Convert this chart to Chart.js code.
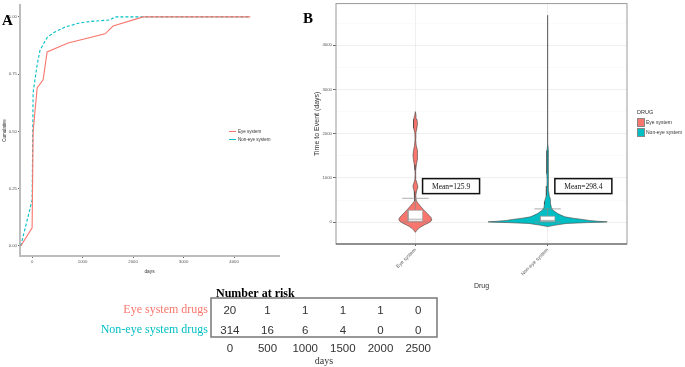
<!DOCTYPE html>
<html><head><meta charset="utf-8">
<script src="https://cdn.jsdelivr.net/npm/chart.js@4.4.1/dist/chart.umd.min.js"></script>
<style>
html,body{margin:0;padding:0;background:#fff;width:685px;height:367px;overflow:hidden;position:relative;}
canvas{position:absolute;}
.t{position:absolute;white-space:nowrap;font-family:'Liberation Sans',Arial,sans-serif;color:#333;}
.panel{position:absolute;font-family:'Liberation Serif','Times New Roman',serif;font-weight:bold;font-size:15px;line-height:15px;color:#000;}
</style></head><body>
<canvas id="cA" width="290" height="275" style="left:0;top:0;"></canvas>
<canvas id="cB" width="395" height="290" style="left:290px;top:0;"></canvas>
<canvas id="cC" width="480" height="87" style="left:0;top:280px;"></canvas>

<div class="panel" style="left:2px;top:13px;">A</div>
<div class="panel" style="left:303px;top:11px;">B</div>

<!-- legend A -->
<div style="position:absolute;left:229px;top:131px;width:7px;height:1px;background:#F8766D"></div>
<div class="t" style="left:238px;top:128.5px;font-size:4.5px;line-height:6px;">Eye system</div>
<div style="position:absolute;left:229px;top:139px;width:7px;height:1px;background:#00BFC4"></div>
<div class="t" style="left:238px;top:136.5px;font-size:4.5px;line-height:6px;">Non-eye system</div>

<!-- legend B -->
<div class="t" style="left:637px;top:109px;font-size:5.5px;line-height:7px;">DRUG</div>
<div style="position:absolute;left:637px;top:118px;width:6px;height:7px;background:#F8766D;border:0.5px solid #888"></div>
<div class="t" style="left:646px;top:119px;font-size:5px;line-height:6px;">Eye system</div>
<div style="position:absolute;left:637px;top:128px;width:6px;height:7px;background:#00BFC4;border:0.5px solid #888"></div>
<div class="t" style="left:646px;top:129px;font-size:5px;line-height:6px;">Non-eye system</div>

<script>
// ---------- Panel A data ----------
const seriesNames = ['Eye system', 'Non-eye system'];
const eyeDays   = [-225, 0, 20, 100, 218, 297, 713, 1446, 1604, 2198, 4320];
const eyeCum    = [0, 0.079, 0.50, 0.69, 0.725, 0.847, 0.886, 0.926, 0.96, 1.0, 1.0];
const nonEyeDays = [-225, 0, 20, 99, 158, 297, 416, 653, 950, 1149, 1545, 1644, 4320];
const nonEyeCum  = [0, 0.20, 0.67, 0.79, 0.856, 0.91, 0.93, 0.956, 0.974, 0.98, 0.987, 1.0, 1.0];
const cumTicks = [0, 0.25, 0.5, 0.75, 1];
const dayTicks = [0, 1000, 2000, 3000, 4000];

// ---------- Panel B data ----------
const drugCategories = ['Eye system', 'Non-eye system'];
const eyeViolinDays    = [-230, -190, -150, -105, -60, -20, 20, 60, 100, 150, 210, 280, 350, 420, 480, 540, 620, 700, 770, 820, 880, 960, 1060, 1180, 1300, 1420, 1520, 1620, 1740, 1880, 2020, 2130, 2230, 2330, 2420, 2500];
const eyeViolinDensity = [0, 0.01, 0.022, 0.042, 0.07, 0.098, 0.118, 0.125, 0.12, 0.105, 0.085, 0.062, 0.042, 0.022, 0.008, 0.004, 0.004, 0.009, 0.016, 0.018, 0.012, 0.004, 0.002, 0.003, 0.008, 0.015, 0.018, 0.014, 0.006, 0.002, 0.004, 0.012, 0.016, 0.012, 0.005, 0];
const nonEyeViolinDays    = [-100, -67, -30, -10, 0, 7, 20, 40, 60, 90, 120, 160, 195, 270, 330, 400, 460, 520, 600, 700, 820, 950, 1100, 1250, 1380, 1500, 1620, 1750, 2000, 2500, 3000, 3500, 4000, 4400, 4680];
const nonEyeViolinDensity = [0, 0.06, 0.14, 0.3, 0.42, 0.45, 0.38, 0.31, 0.265, 0.19, 0.13, 0.1, 0.076, 0.04, 0.028, 0.024, 0.024, 0.018, 0.012, 0.008, 0.005, 0.004, 0.006, 0.007, 0.006, 0.007, 0.005, 0.002, 0.0012, 0.001, 0.001, 0.001, 0.001, 0.001, 0];
// [lower whisker, Q1, median, Q3, upper whisker]
const eyeBox    = [5, 22, 67, 270, 540];
const nonEyeBox = [3, 22, 40, 135, 300];
const meanDays = [125.9, 298.4];
const timeTicks = [0, 500, 1000, 1500, 2000, 2500, 3000, 3500, 4000, 4500];

// ---------- Risk table data ----------
const riskDays = ['0', '500', '1000', '1500', '2000', '2500'];
const riskGroups = ['Eye system drugs', 'Non-eye system drugs'];
const eyeAtRisk    = [20, 1, 1, 1, 1, 0];
const nonEyeAtRisk = [314, 16, 6, 4, 0, 0];

const RED = '#F8766D', TEAL = '#00BFC4';
Chart.defaults.font.family = "'Liberation Sans', Arial, sans-serif";
Chart.defaults.color = '#4d4d4d';

// ================= Panel A =================
new Chart(document.getElementById('cA'), {
  type: 'scatter',
  data: { datasets: [
    { label: seriesNames[0], data: eyeDays.map((d, i) => ({x: d, y: eyeCum[i]})),
      showLine: true, borderColor: RED, borderWidth: 1.1, pointRadius: 0, fill: false },
    { label: seriesNames[1], data: nonEyeDays.map((d, i) => ({x: d, y: nonEyeCum[i]})),
      showLine: true, borderColor: TEAL, borderWidth: 1.1, borderDash: [3, 2], pointRadius: 0, fill: false }
  ]},
  options: {
    responsive: false, animation: false, devicePixelRatio: 1,
    layout: { padding: { left: 0, right: 11, top: 5, bottom: 0 } },
    plugins: { legend: { display: false }, tooltip: { enabled: false } },
    scales: {
      x: { type: 'linear', min: -240, max: 4890,
        afterBuildTicks: s => { s.ticks = dayTicks.map(v => ({value: v})); },
        afterFit: s => { s.height = 19; },
        grid: { drawOnChartArea: false, drawTicks: true, tickLength: 2, tickColor: '#666' },
        border: { display: true, color: '#bdbdbd', width: 2 },
        ticks: { font: { size: 4.3 }, color: '#555', padding: 1, autoSkip: false, maxRotation: 0,
          callback: v => String(v) },
        title: { display: true, text: 'days', font: { size: 4.8 }, color: '#333', padding: { top: 4.2, bottom: 0 } } },
      y: { type: 'linear', min: -0.044, max: 1.052,
        afterBuildTicks: s => { s.ticks = cumTicks.map(v => ({value: v})); },
        afterFit: s => { s.width = 20; },
        grid: { drawOnChartArea: false, drawTicks: true, tickLength: 2, tickColor: '#666' },
        border: { display: true, color: '#bdbdbd', width: 2 },
        ticks: { font: { size: 4.3 }, color: '#555', padding: 1, autoSkip: false,
          callback: v => v.toFixed(2) },
        title: { display: true, text: 'Cumulative', font: { size: 4.5 }, color: '#333', padding: { top: 2.3, bottom: 0 } } }
    }
  }
});

// ================= Panel B =================
function violinShape(cat, days, dens) {
  const right = days.map((d, i) => ({x: cat + dens[i], y: d}));
  const left = days.map((d, i) => ({x: cat - dens[i], y: d})).reverse();
  const pts = right.concat(left);
  pts.push({x: pts[0].x, y: pts[0].y});
  return pts;
}
const boxHalf = 0.055, capHalf = 0.1;
function boxSets(cat, b) {
  const [lo, q1, med, q3, hi] = b;
  const line = (pts, color, w) => ({ data: pts, showLine: true, borderColor: color, borderWidth: w, pointRadius: 0, fill: false });
  return [
    line([{x: cat, y: q3}, {x: cat, y: hi}], '#8a8a8a', 0.7),
    line([{x: cat - capHalf, y: hi}, {x: cat + capHalf, y: hi}], '#8a8a8a', 0.7),
    line([{x: cat, y: lo}, {x: cat, y: q1}], '#8a8a8a', 0.7),
    line([{x: cat - capHalf, y: lo}, {x: cat + capHalf, y: lo}], '#8a8a8a', 0.7),
    { data: [{x: cat - boxHalf, y: q1}, {x: cat + boxHalf, y: q1}, {x: cat + boxHalf, y: q3}, {x: cat - boxHalf, y: q3}, {x: cat - boxHalf, y: q1}],
      showLine: true, fill: 'shape', backgroundColor: '#ffffff', borderColor: '#9a9a9a', borderWidth: 0.7, pointRadius: 0 },
    line([{x: cat - boxHalf, y: med}, {x: cat + boxHalf, y: med}], '#9a9a9a', 0.8)
  ];
}
const bSets = [
  { data: violinShape(1, eyeViolinDays, eyeViolinDensity), showLine: true, fill: 'shape',
    backgroundColor: RED, borderColor: '#444', borderWidth: 0.6, pointRadius: 0 },
  { data: violinShape(2, nonEyeViolinDays, nonEyeViolinDensity), showLine: true, fill: 'shape',
    backgroundColor: TEAL, borderColor: '#444', borderWidth: 0.6, pointRadius: 0 },
  ...boxSets(1, eyeBox),
  ...boxSets(2, nonEyeBox)
];
bSets.forEach((d, i) => { d.order = -i; });

const panelFrame = {
  id: 'panelFrame',
  afterDatasetsDraw(chart, args, opts) {
    const {ctx, chartArea: a} = chart;
    ctx.save();
    ctx.strokeStyle = opts.color; ctx.lineWidth = opts.width;
    ctx.strokeRect(a.left, a.top, a.right - a.left, a.bottom - a.top);
    if (opts.bottomColor) {
      ctx.strokeStyle = opts.bottomColor;
      ctx.beginPath(); ctx.moveTo(a.left, a.bottom); ctx.lineTo(a.right, a.bottom); ctx.stroke();
    }
    ctx.restore();
  }
};
const meanLabels = {
  id: 'meanLabels',
  afterDraw(chart, args, opts) {
    const {ctx, scales: {x, y}} = chart;
    meanDays.forEach((m, i) => {
      const cx = x.getPixelForValue(i + 1 + opts.dx), cy = y.getPixelForValue(opts.yAt);
      const w = 57, h = 15;
      ctx.save();
      ctx.fillStyle = '#fff'; ctx.fillRect(cx - w / 2, cy - h / 2, w, h);
      ctx.strokeStyle = '#111'; ctx.lineWidth = 1.5; ctx.strokeRect(cx - w / 2, cy - h / 2, w, h);
      ctx.fillStyle = '#111'; ctx.font = "7.5px 'Liberation Serif', serif";
      ctx.textAlign = 'center'; ctx.textBaseline = 'middle';
      ctx.fillText('Mean=' + m.toFixed(1), cx, cy + 0.5);
      ctx.restore();
    });
  }
};

new Chart(document.getElementById('cB'), {
  type: 'scatter',
  data: { datasets: bSets },
  plugins: [panelFrame, meanLabels],
  options: {
    responsive: false, animation: false, devicePixelRatio: 1,
    layout: { padding: { left: 0, right: 58, top: 2, bottom: 0 } },
    plugins: { legend: { display: false }, tooltip: { enabled: false },
      panelFrame: { color: '#9a9a9a', width: 1, bottomColor: '#555' },
      meanLabels: { dx: 0.27, yAt: 815 } },
    scales: {
      x: { type: 'linear', min: 0.4, max: 2.6,
        afterBuildTicks: s => { s.ticks = [1, 2].map(v => ({value: v})); },
        afterFit: s => { s.height = 46; },
        grid: { color: '#ebebeb', lineWidth: 0.8, tickLength: 2, tickColor: '#444' },
        border: { display: false },
        ticks: { font: { size: 5 }, color: '#555', padding: 1, autoSkip: false, minRotation: 45, maxRotation: 45,
          callback: v => drugCategories[Math.round(v) - 1] },
        title: { display: true, text: 'Drug', font: { size: 7 }, color: '#333', padding: { top: 5.8, bottom: 0 } } },
      y: { type: 'linear', min: -494, max: 4944,
        afterBuildTicks: s => { s.ticks = timeTicks.map(v => ({value: v})); },
        afterFit: s => { s.width = 46; },
        grid: { color: c => (c.tick && c.tick.value % 1000 === 0) ? '#ebebeb' : '#f5f5f5',
                lineWidth: c => (c.tick && c.tick.value % 1000 === 0) ? 0.8 : 0.5,
                tickLength: 3, tickColor: c => (c.tick && c.tick.value % 1000 === 0) ? '#444' : 'rgba(0,0,0,0)' },
        border: { display: false },
        ticks: { font: { size: 4.3 }, color: '#555', padding: 1, autoSkip: false,
          callback: v => (v % 1000 === 0 ? String(v) : '') },
        title: { display: true, text: 'Time to Event (days)', font: { size: 7 }, color: '#333', padding: { top: 22.8, bottom: 0 } } }
    }
  }
});

// ================= Risk table =================
const riskText = {
  id: 'riskText',
  afterDatasetsDraw(chart, args, opts) {
    const {ctx, chartArea: a} = chart;
    const ds = chart.data.datasets[0];
    const meta = chart.getDatasetMeta(0);
    ctx.save();
    ctx.fillStyle = '#333'; ctx.font = "11.5px 'Liberation Sans', Arial, sans-serif";
    ctx.textAlign = 'center'; ctx.textBaseline = 'middle';
    meta.data.forEach((pt, i) => { ctx.fillText(String(ds.data[i].n), pt.x, pt.y + opts.dy); });
    ctx.strokeStyle = '#777'; ctx.lineWidth = 1.5;
    ctx.strokeRect(a.left, a.top, a.right - a.left, a.bottom - a.top);
    ctx.fillStyle = '#000'; ctx.font = "bold 12px 'Liberation Serif', serif";
    ctx.textAlign = 'left'; ctx.textBaseline = 'alphabetic';
    ctx.fillText('Number at risk', a.left + 5, a.top - 1.5);
    ctx.restore();
  }
};
const riskRows = [eyeAtRisk, nonEyeAtRisk];
new Chart(document.getElementById('cC'), {
  type: 'scatter',
  data: { datasets: [{
    data: riskGroups.flatMap((g, gi) => riskDays.map((d, di) => ({x: d, y: g, n: riskRows[gi][di]}))),
    pointRadius: 0
  }]},
  plugins: [riskText],
  options: {
    responsive: false, animation: false, devicePixelRatio: 1,
    layout: { padding: { left: 0, right: 43, top: 18, bottom: 0 } },
    plugins: { legend: { display: false }, tooltip: { enabled: false }, riskText: { dy: 3.5 } },
    scales: {
      x: { type: 'category', labels: riskDays, offset: true,
        afterFit: s => { s.height = 30; },
        grid: { display: false, drawTicks: false }, border: { display: false },
        ticks: { font: { size: 11.5 }, color: '#333', padding: 4.5, maxRotation: 0, autoSkip: false },
        title: { display: true, text: 'days', font: { family: "'Liberation Serif', serif", size: 10 }, color: '#333', padding: { top: 1, bottom: 0 } } },
      y: { type: 'category', labels: riskGroups, offset: true,
        afterFit: s => { s.width = 211; },
        grid: { display: false, drawTicks: false }, border: { display: false },
        ticks: { font: { family: "'Liberation Serif', serif", size: 12 }, padding: 3, autoSkip: false, labelOffset: 2.5,
          color: c => (c.index === 0 ? RED : TEAL) } }
    }
  }
});
</script>
</body></html>
